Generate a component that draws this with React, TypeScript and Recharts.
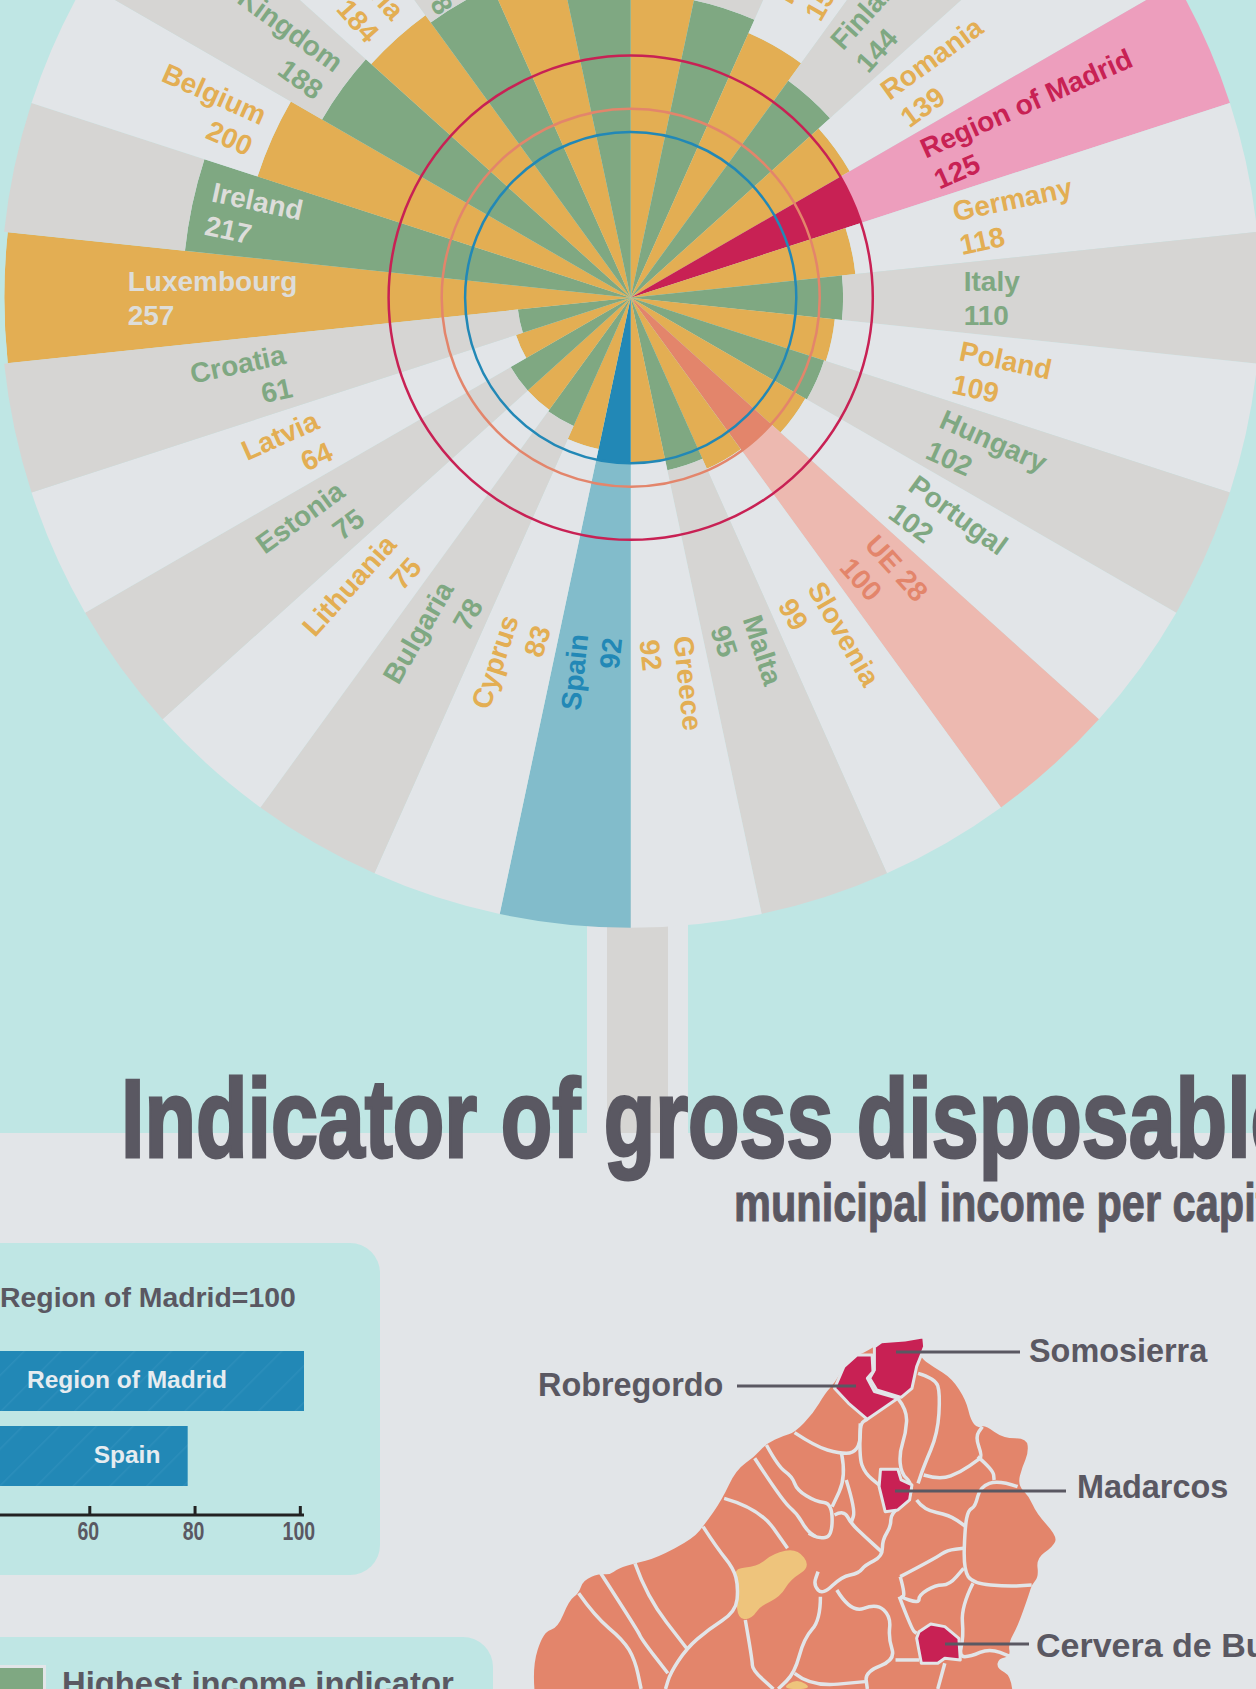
import React from 'react';
import {
  RadialBarChart, RadialBar, PolarAngleAxis, PolarRadiusAxis, PolarGrid, Cell, Sector,
  BarChart, Bar, XAxis, YAxis, LabelList,
} from 'recharts';

// Spokes clockwise from 12 o'clock. The top ones are cut by the page edge, so their names are a guess.
const countries = [
  'Denmark', 'Sweden', 'France', 'Finland', 'Romania', 'Region of Madrid', 'Germany', 'Italy', 'Poland', 'Hungary',
  'Portugal', 'UE 28', 'Slovenia', 'Malta', 'Greece', 'Spain', 'Cyprus', 'Bulgaria', 'Lithuania', 'Estonia',
  'Latvia', 'Croatia', 'Luxembourg', 'Ireland', 'Belgium', 'United Kingdom', 'Austria', 'Netherlands', 'Slovakia', 'Czechia',
];
const indicator = [
  164, 160, 156, 144, 139, 125, 118, 110, 109, 102,
  102, 100, 99, 95, 92, 92, 83, 78, 75, 75,
  64, 61, 257, 217, 200, 188, 184, 178, 172, 168,
];
// length of each spoke as drawn (not proportional to the printed indicator)
const drawnLength = [
  178, 169, 161, 149, 140.5, 134.5, 125.5, 118, 114, 113,
  112, 105.5, 104, 98, 92, 92, 86, 78, 77, 77,
  67, 63, 348, 249, 218, 198, 194, 189, 183, 181,
];
const RIM = 350;

const GREEN = '#7FA882';
const ORANGE = '#E3AE53';
const LIGHT = '#E2E5E8';
const GREY = '#D6D5D3';
const TEAL = '#BFE6E4';
const INK = '#5A5862';
const BLUE = '#2288B6';
const SALMON = '#E3856B';
const CRIMSON = '#C82154';

const strongColor = (i: number) => {
  const name = countries[i];
  if (name === 'Region of Madrid') return CRIMSON;
  if (name === 'UE 28') return SALMON;
  if (name === 'Spain') return BLUE;
  return i % 2 === 0 ? ORANGE : GREEN;
};
const paleColor = (i: number) => {
  const name = countries[i];
  if (name === 'Region of Madrid') return '#ED9EBD';
  if (name === 'UE 28') return '#EDB9B0';
  if (name === 'Spain') return '#82BCCB';
  if (name === 'Luxembourg') return TEAL;
  return i % 2 === 0 ? LIGHT : GREY;
};
const labelColor = (i: number) => {
  const name = countries[i];
  if (name === 'Luxembourg' || name === 'Ireland') return '#DDDDDA';
  if (name === 'Portugal') return GREEN;
  return strongColor(i);
};

// where the label block sits on its spoke, in px from the centre
const labelRadius: Record<string, number> = {
  Luxembourg: 503, Ireland: 431, Belgium: 408, 'United Kingdom': 372, Austria: 365,
  Greece: 342, Malta: 340, Slovenia: 340, 'UE 28': 340, Portugal: 336,
  'Region of Madrid': 326, Romania: 325, Finland: 325,
  Croatia: 350, Estonia: 346, Latvia: 336,
};
const readsInward = ['Luxembourg', 'Ireland'];

const spokes = countries.map((name, i) => ({
  name,
  indicator: indicator[i],
  drawn: drawnLength[i],
  rest: RIM - drawnLength[i],
}));

const rings = [
  { value: 92, color: BLUE },
  { value: 105, color: SALMON },
  { value: 134.5, color: CRIMSON },
];

const barNames = ['Region of Madrid', 'Spain'];
const barValues = [100.7, 78.6];
const barTicks = [0, 20, 40, 60, 80, 100];

const OUTER = 630;
const FONT = '"Liberation Sans", Arial, sans-serif';

const PaleSpoke = (props: any) => {
  const { cx, cy, startAngle, endAngle, payload, index } = props;
  const mid = (startAngle + endAngle) / 2;
  const name = payload.name;
  const rad = (mid * Math.PI) / 180;
  const clock = ((90 - mid) % 360 + 360) % 360;
  const rightSide = clock < 180;
  const r = labelRadius[name] ?? (rightSide ? 333 : 340);
  const x = cx + r * Math.cos(rad);
  const y = cy - r * Math.sin(rad);
  const rot = rightSide ? clock - 90 : clock + 90;
  const anchor = rightSide || readsInward.includes(name) ? 'start' : 'end';
  const color = labelColor(index);
  return (
    <g>
      <Sector {...props} stroke="none" />
      <g transform={`translate(${x},${y}) rotate(${rot})`} fontFamily={FONT} fontWeight={700} fontSize={28} fill={color} textAnchor={anchor}>
        <text y={-7}>{name}</text>
        <text y={27}>{payload.indicator}</text>
      </g>
    </g>
  );
};

const AxisTick = ({ x, y, payload }: any) => (
  <g>
    <line x1={x} x2={x} y1={y - 9} y2={y} stroke="#222" strokeWidth={3} />
    <text x={0} y={0} transform={`translate(${x - 1.5},${y + 25}) scale(0.78,1)`} textAnchor="middle" fontFamily={FONT} fontWeight={700} fontSize={25} fill={INK}>
      {payload.value}
    </text>
  </g>
);

const BarName = ({ x, y, height, value }: any) => (
  <text x={x + 353} y={y + height / 2 + 6.5} textAnchor="middle" fontFamily={FONT} fontWeight={700} fontSize={24.5} fill="#E6ECF0">
    {value}
  </text>
);

// Map of the northern municipalities, traced by hand in crop coordinates
const mapOutline = '730,130 755,110 770,95 820,90 860,80 862,110 850,140 880,170 920,205 950,270 960,330 975,355 990,345 1030,385 1080,385 1083,430 1070,470 1060,525 1085,560 1100,610 1145,680 1135,710 1100,745 1105,800 1090,825 1085,850 1060,950 1040,1000 1045,1040 1020,1045 1015,1075 1050,1100 1050,1250 40,1250 25,1075 50,965 80,955 105,870 125,850 135,810 170,790 190,795 210,775 245,760 290,745 370,685 395,640 430,570 460,480 500,440 525,400 560,378 585,368 625,310 650,250 670,220 690,170 720,135';
const mapBorders = [
  '585,368 630,410 680,430 710,430 725,400 725,340 740,328',
  '805,265 825,300 822,370 808,430 812,490 835,520 830,570 790,610 790,650 772,690 772,740 735,765 722,790 685,800 645,855 625,825 635,785',
  '848,190 885,205 895,250 890,370 860,470 848,520',
  '860,495 895,510 940,485 975,450 985,440 970,380 985,350',
  '975,440 1008,480 1010,510',
  '1060,530 1020,510 980,530 970,590 955,600 948,650 945,780 965,820 1040,830 1090,825',
  '845,570 860,600 915,615 948,648',
  '725,340 722,440 735,490 765,525',
  '525,405 550,470 580,500 590,540 630,575 665,580 665,680 635,685 615,670',
  '500,445 560,575 590,610 610,660 630,680',
  '685,430 695,500 665,590',
  '695,510 715,600 705,640',
  '670,615 690,600 705,640 735,680 770,725',
  '435,565 510,595 570,715',
  '390,650 420,715 455,775 465,830 460,905 400,960 355,1015 320,1090 310,1137',
  '245,760 270,860 355,1015',
  '172,790 250,960 260,990 315,1090',
  '125,850 160,920 220,990 245,1050 258,1137',
  '480,930 495,1050 495,1080 540,1137',
  '640,860 640,930 605,985 585,1090 550,1137',
  '675,840 705,910 760,880 790,920 785,985 800,1050 735,1085 740,1137',
  '585,1090 620,1130 735,1115',
  '800,1050 850,1050',
  '905,1060 890,1137',
  '810,800 885,745 910,720 945,715',
  '810,800 822,860 808,860 850,880 850,855 885,825 915,825 945,775',
  '808,860 835,960 845,970',
  '965,820 940,890 945,980 935,1040 960,1040 1000,1015 1045,1040',
];
const mapYellow = [
  '455,775 505,770 540,730 590,715 620,770 575,810 555,860 510,890 495,925 465,930 460,860 465,820',
  '590,1105 625,1137 555,1137',
];
const mapCrimson = [
  '770,95 820,90 860,80 862,110 845,170 835,235 812,262 760,240 745,205 755,180 755,110',
  '718,135 750,135 752,185 740,205 755,245 805,265 740,328 700,280 670,235 690,170',
  '768,478 805,478 812,510 835,525 830,570 805,600 778,605 765,530',
  '875,942 905,950 935,985 938,1050 905,1045 890,1060 855,1060 845,985 850,965',
];

// rounds a traced outline: straight points become quadratic curves through the midpoints
const smooth = (points: string, closed: boolean) => {
  const pts = points.split(' ').map(p => p.split(',').map(Number));
  const mid = (a: number[], b: number[]) => `${(a[0] + b[0]) / 2},${(a[1] + b[1]) / 2}`;
  if (closed) {
    let d = `M${mid(pts[pts.length - 1], pts[0])}`;
    pts.forEach((p, i) => { d += ` Q${p[0]},${p[1]} ${mid(p, pts[(i + 1) % pts.length])}`; });
    return d + 'Z';
  }
  let d = `M${pts[0][0]},${pts[0][1]}`;
  for (let i = 1; i < pts.length - 1; i++) d += ` Q${pts[i][0]},${pts[i][1]} ${mid(pts[i], pts[i + 1])}`;
  const last = pts[pts.length - 1];
  return d + ` L${last[0]},${last[1]}`;
};

const block = (left: number, top: number, width: number, height: number, background: string, extra = {}) => (
  <div style={{ position: 'absolute', left, top, width, height, background, ...extra }} />
);

export default function App() {
  return (
    <div style={{ position: 'fixed', left: 0, top: 0, width: 1256, height: 1689, overflow: 'hidden', background: LIGHT }}>
      {block(0, 0, 1256, 1133, TEAL)}
      {block(587, 900, 101, 233, LIGHT)}
      {block(607, 900, 61, 233, GREY)}

      {/* Wheel */}
      <div style={{ position: 'absolute', left: -19, top: -352 }}>
        <RadialBarChart
          width={1300} height={1300} cx={649.7} cy={649.7}
          innerRadius={0} outerRadius={OUTER}
          data={spokes} layout="centric" startAngle={78} endAngle={-282}
          barCategoryGap={0} barGap={0} margin={{ top: 0, right: 0, bottom: 0, left: 0 }}
        >
          <PolarAngleAxis type="category" dataKey="name" tick={false} axisLine={false} tickLine={false} />
          <PolarRadiusAxis type="number" domain={[0, RIM]} tick={false} axisLine={false} />
          <RadialBar dataKey="drawn" stackId="spoke" isAnimationActive={false}>
            {spokes.map((s, i) => <Cell key={s.name} fill={strongColor(i)} />)}
          </RadialBar>
          <RadialBar dataKey="rest" stackId="spoke" isAnimationActive={false} shape={PaleSpoke}>
            {spokes.map((s, i) => <Cell key={s.name} fill={paleColor(i)} />)}
          </RadialBar>
        </RadialBarChart>
      </div>

      {/* Reference rings, on top of the spokes */}
      <div style={{ position: 'absolute', left: -19, top: -352 }}>
        <RadialBarChart
          width={1300} height={1300} cx={649.7} cy={649.7}
          innerRadius={0} outerRadius={OUTER}
          data={spokes} layout="centric" startAngle={78} endAngle={-282}
          margin={{ top: 0, right: 0, bottom: 0, left: 0 }}
        >
          <PolarAngleAxis type="category" dataKey="name" tick={false} axisLine={false} tickLine={false} />
          <PolarRadiusAxis type="number" domain={[0, RIM]} tick={false} axisLine={false} />
          {rings.map(ring => (
            <PolarGrid
              key={ring.value}
              gridType="circle"
              radialLines={false}
              polarAngles={[]}
              polarRadius={[(ring.value / RIM) * OUTER]}
              stroke={ring.color}
              strokeWidth={2.5}
            />
          ))}
        </RadialBarChart>
      </div>

      {/* Panels */}
      {block(-40, 1243, 420, 332, TEAL, { borderRadius: 30 })}
      {block(-40, 1637, 533, 100, TEAL, { borderRadius: 30 })}
      {block(-6, 1665, 52, 60, GREEN, { border: `3px solid ${LIGHT}`, boxSizing: 'border-box' })}

      <div style={{ position: 'absolute', left: -226, top: 1343 }}>
        <BarChart
          width={570} height={206} data={barNames.map((name, i) => ({ name, value: barValues[i] }))}
          layout="vertical" barSize={60} barGap={0}
          margin={{ top: 0, right: 40, bottom: 0, left: 0 }}
        >
          <defs>
            <pattern id="hatch" width="26" height="26" patternUnits="userSpaceOnUse" patternTransform="rotate(-45)">
              <rect width="26" height="26" fill={BLUE} />
              <rect width="26" height="1.5" fill="#2C8EBB" />
            </pattern>
          </defs>
          <XAxis type="number" domain={[0, 100]} ticks={barTicks} axisLine={{ stroke: '#222', strokeWidth: 3 }} tickLine={false} tickSize={0} tickMargin={0} tick={AxisTick} height={34} />
          <YAxis type="category" dataKey="name" hide padding={{ top: 0, bottom: 22 }} />
          <Bar dataKey="value" fill="url(#hatch)" isAnimationActive={false}>
            <LabelList dataKey="name" content={BarName} />
          </Bar>
        </BarChart>
      </div>

      {/* Titles, map, labels */}
      <svg width={1256} height={1689} style={{ position: 'absolute', left: 0, top: 0 }} fontFamily={FONT} fontWeight={700}>
        <text transform="translate(121,1157) scale(0.76,1)" fontSize={111} fill={INK} stroke={INK} strokeWidth={3}>
          Indicator of gross disposable income
        </text>
        <text transform="translate(734,1221) scale(0.784,1)" fontSize={53} fill={INK} stroke={INK} strokeWidth={1}>
          municipal income per capita
        </text>
        <text x={0} y={1307} fontSize={28.4} fill={INK}>Region of Madrid=100</text>
        <text x={62} y={1695} fontSize={32.8} fill={INK}>Highest income indicator</text>

        <g transform="translate(520,1310) scale(0.4694,0.3333)">
          <path d={smooth(mapOutline, true)} fill={SALMON} />
          {mapYellow.map(p => <path key={p} d={smooth(p, true)} fill="#EEC47C" />)}
          {mapBorders.map(p => (
            <path key={p} d={smooth(p, false)} fill="none" stroke={LIGHT} strokeWidth={3.5} strokeLinejoin="round" vectorEffect="non-scaling-stroke" />
          ))}
          {mapCrimson.map(p => (
            <polygon key={p} points={p} fill={CRIMSON} stroke={LIGHT} strokeWidth={3} strokeLinejoin="round" vectorEffect="non-scaling-stroke" />
          ))}
        </g>

        <g stroke={INK} strokeWidth={3}>
          <line x1={896} x2={1020} y1={1352} y2={1352} />
          <line x1={737} x2={856} y1={1386} y2={1386} />
          <line x1={895} x2={1066} y1={1491} y2={1491} />
          <line x1={945} x2={1029} y1={1644} y2={1644} />
        </g>
        <g fontSize={32.4} fill={INK}>
          <text x={1029} y={1362}>Somosierra</text>
          <text x={538} y={1396}>Robregordo</text>
          <text x={1077} y={1498}>Madarcos</text>
          <text x={1036} y={1657} fontSize={34}>Cervera de Buitrago</text>
        </g>
      </svg>
    </div>
  );
}
